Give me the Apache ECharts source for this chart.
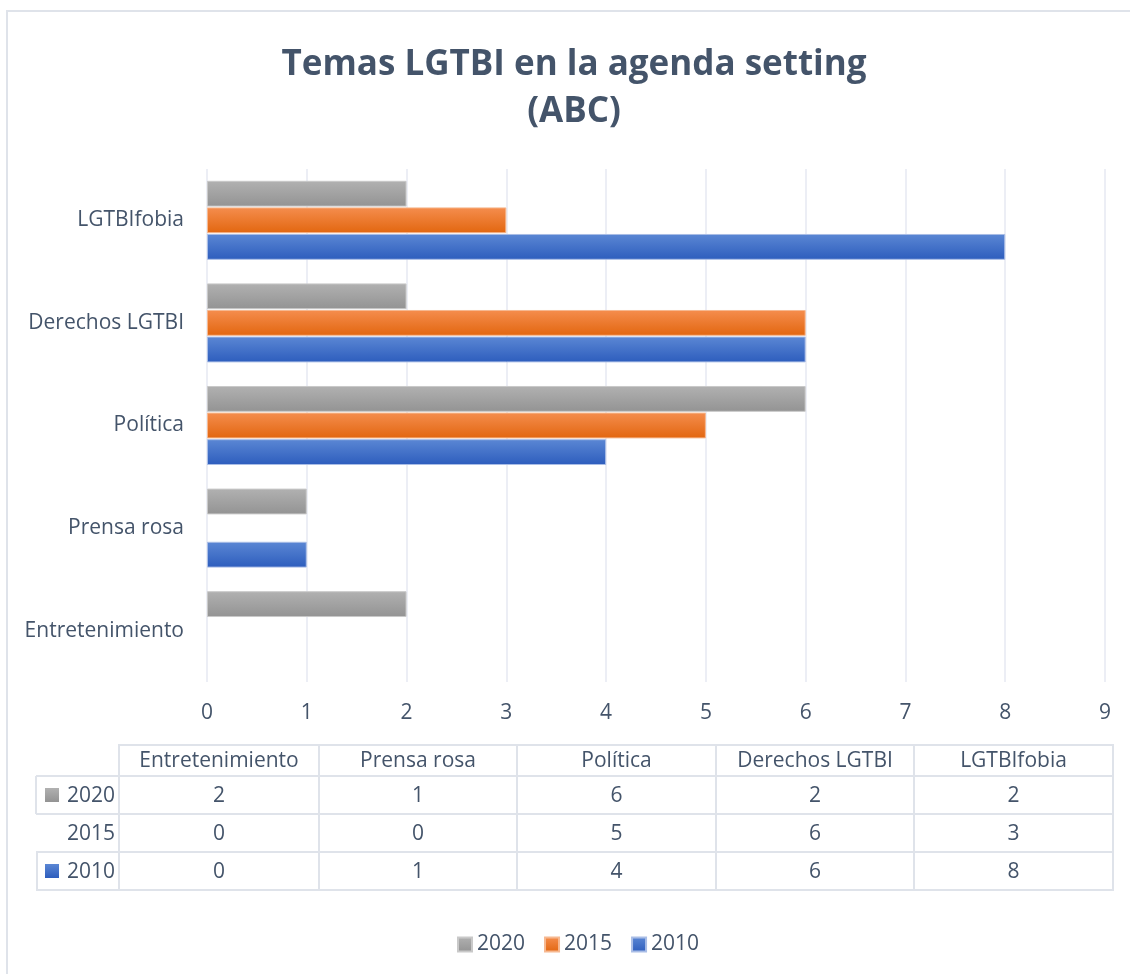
<!DOCTYPE html>
<html>
<head>
<meta charset="utf-8">
<script src="https://cdn.jsdelivr.net/npm/echarts@6/dist/echarts.min.js"></script>
<style>
  html, body { margin: 0; padding: 0; background: #fff; }
  #grafico { width: 1130px; height: 974px; }
</style>
</head>
<body>
<div id="grafico"></div>
<script>
// Datos del gráfico (categorías de abajo hacia arriba)
const categorias = ['Entretenimiento', 'Prensa rosa', 'Política', 'Derechos LGTBI', 'LGTBIfobia'];
const anios = ['2020', '2015', '2010'];
const valores2020 = [2, 1, 6, 2, 2];
const valores2015 = [0, 0, 5, 6, 3];
const valores2010 = [0, 1, 4, 6, 8];
const ticksX = [0, 1, 2, 3, 4, 5, 6, 7, 8, 9];

const colorTexto = '#44546a';
const colorLinea = '#dfe3ea';
const fuente = '"Open Sans", sans-serif';
const tamTexto = 21;

function degradado(arriba, abajo) {
    return new echarts.graphic.LinearGradient(0, 0, 0, 1, [
        { offset: 0, color: arriba },
        { offset: 1, color: abajo }
    ]);
}

const colores = {
    '2020': degradado('#b1b1b1', '#939393'),
    '2015': degradado('#f58d4e', '#e2660f'),
    '2010': degradado('#5b87d4', '#2d5dbd')
};
const bordes = { '2020': '#c9c9c9', '2015': '#f6b890', '2010': '#a9bde6' };

const grafico = echarts.init(document.getElementById('grafico'));

// Tabla de datos bajo el gráfico, dibujada con elementos gráficos
const colX = [119, 319, 517, 716, 914, 1113];
const filaY = [745, 776, 814, 852, 890];
const filas = { '2020': valores2020, '2015': valores2015, '2010': valores2010 };
const tabla = [];

// bordes de las celdas
tabla.push({ type: 'polyline', shape: { points: [[colX[0], filaY[1]], [colX[0], filaY[0]], [colX[5], filaY[0]], [colX[5], filaY[4]], [colX[0], filaY[4]], [colX[0], filaY[1]]] }, style: { stroke: colorLinea, lineWidth: 2, fill: null } });
for (let i = 1; i < 5; i++) {
    tabla.push({ type: 'line', shape: { x1: colX[i], y1: filaY[0], x2: colX[i], y2: filaY[4] }, style: { stroke: colorLinea, lineWidth: 2 } });
}
for (let j = 1; j < 4; j++) {
    tabla.push({ type: 'line', shape: { x1: 36, y1: filaY[j], x2: colX[5], y2: filaY[j] }, style: { stroke: colorLinea, lineWidth: 2 } });
}
tabla.push({ type: 'line', shape: { x1: 36, y1: filaY[1], x2: 36, y2: filaY[2] }, style: { stroke: colorLinea, lineWidth: 2 } });
tabla.push({ type: 'polyline', shape: { points: [[37, filaY[3]], [37, filaY[4]], [colX[0], filaY[4]]] }, style: { stroke: colorLinea, lineWidth: 2, fill: null } });

categorias.forEach((cat, i) => {
    tabla.push({ type: 'text', x: (colX[i] + colX[i + 1]) / 2, y: (filaY[0] + filaY[1]) / 2 + 1, style: { text: cat, fill: colorTexto, font: tamTexto + 'px ' + fuente, align: 'center', verticalAlign: 'middle' } });
});
anios.forEach((anio, r) => {
    const yc = (filaY[r + 1] + filaY[r + 2]) / 2 + 1;
    tabla.push({ type: 'text', x: 115, y: yc, style: { text: anio, fill: colorTexto, font: tamTexto + 'px ' + fuente, align: 'right', verticalAlign: 'middle' } });
    if (anio !== '2015') {
        tabla.push({ type: 'rect', shape: { x: 45, y: yc - 8, width: 14, height: 14 }, style: { fill: colores[anio] } });
    }
    filas[anio].forEach((v, i) => {
        tabla.push({ type: 'text', x: (colX[i] + colX[i + 1]) / 2, y: yc, style: { text: String(v), fill: colorTexto, font: tamTexto + 'px ' + fuente, align: 'center', verticalAlign: 'middle' } });
    });
});

// marco exterior
tabla.push({ type: 'polyline', shape: { points: [[7, 980], [7, 11], [1135, 11]] }, style: { stroke: colorLinea, lineWidth: 2, fill: null } });

const opciones = {
    animation: false,
    textStyle: { fontFamily: fuente },
    title: {
        text: 'Temas LGTBI en la agenda setting\n(ABC)',
        left: 569,
        top: 37,
        textAlign: 'center',
        textStyle: { fontSize: 35, fontWeight: 'bold', color: colorTexto, lineHeight: 47, fontFamily: fuente, align: 'center' }
    },
    legend: {
        data: anios,
        bottom: 14,
        left: 452,
        itemWidth: 14,
        itemHeight: 14,
        itemGap: 19,
        icon: 'rect',
        textStyle: { fontSize: tamTexto, color: colorTexto }
    },
    grid: { left: 207, right: 25, top: 169, bottom: 292 },
    xAxis: {
        type: 'value',
        min: ticksX[0],
        max: ticksX[ticksX.length - 1],
        interval: 1,
        axisLine: { show: false },
        axisTick: { show: false },
        axisLabel: { fontSize: tamTexto, color: colorTexto, margin: 21 },
        splitLine: { lineStyle: { color: '#eceef5', width: 2 } }
    },
    yAxis: {
        type: 'category',
        data: categorias,
        axisLine: { show: false },
        axisTick: { show: false },
        axisLabel: { fontSize: tamTexto, color: colorTexto, margin: 23 }
    },
    series: anios.map(anio => ({
        name: anio,
        type: 'bar',
        // las barras con valor 0 no se dibujan (sin borde visible)
        data: filas[anio].map(v => ({ value: v, itemStyle: v === 0 ? { borderWidth: 0 } : {} })),
        barGap: '3%',
        barCategoryGap: '23%',
        itemStyle: { color: colores[anio], borderColor: bordes[anio], borderWidth: 1 }
    })),
    graphic: tabla
};

grafico.setOption(opciones);
</script>
</body>
</html>
